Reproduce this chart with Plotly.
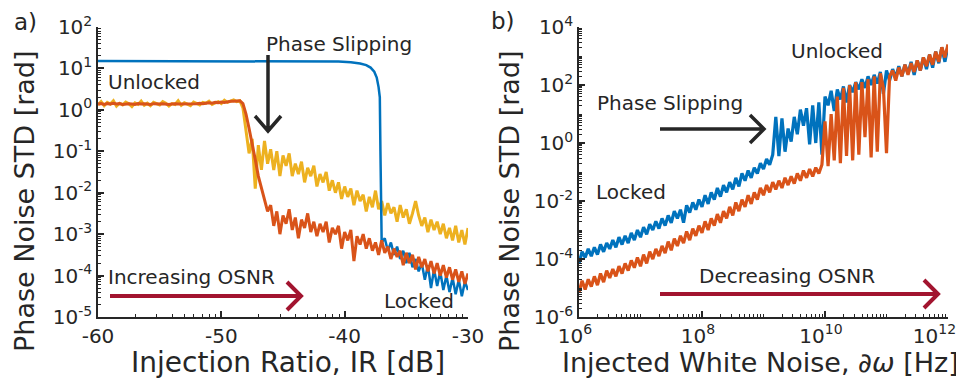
import numpy as np
import plotly.graph_objects as go

# ---------------- data: panel a) ----------------
# injection ratio grid (dB), 0.25 dB steps
ir_grid = [-60 + 0.25 * i for i in range(121)]

# log10 of phase-noise STD [rad]
yellow_a_log10 = [
    0.12, 0.2, 0.1, 0.18, 0.14, 0.22, 0.09, 0.16, 0.12, 0.19,
    0.15, 0.08, 0.17, 0.13, 0.21, 0.11, 0.16, 0.1, 0.18, 0.14,
    0.12, 0.2, 0.16, 0.09, 0.15, 0.13, 0.22, 0.11, 0.17, 0.14,
    0.1, 0.19, 0.15, 0.12, 0.18, 0.16, 0.21, 0.13, 0.17, 0.2,
    0.15, 0.23, 0.18, 0.22, 0.24, 0.2, 0.22, 0.05, -0.55, -1.05,
    -0.7, -1.9, -0.85, -1.45, -0.75, -1.3, -0.95, -1.45, -1.0, -1.6,
    -1.1, -1.35, -1.05, -1.6, -1.3, -1.55, -1.25, -1.75, -1.4, -1.6,
    -1.35, -1.85, -1.55, -1.75, -1.5, -1.95, -1.7, -2.0, -1.75, -2.15,
    -1.85, -2.1, -1.9, -2.3, -1.95, -2.2, -2.05, -2.45, -2.1, -2.35,
    -1.95, -2.4, -2.2, -2.55, -2.25, -2.5, -2.35, -2.7, -2.3, -2.6,
    -2.4, -2.75, -2.5, -2.2, -2.55, -2.8, -2.6, -2.95, -2.65, -2.9,
    -2.7, -3.0, -2.75, -3.1, -2.85, -3.15, -2.8, -3.2, -2.9, -3.25,
    -2.85,
]

orange_a_log10 = [
    0.14, 0.15, 0.13, 0.15, 0.14, 0.16, 0.14, 0.15, 0.13, 0.14,
    0.15, 0.14, 0.13, 0.15, 0.14, 0.15, 0.14, 0.13, 0.15, 0.14,
    0.14, 0.15, 0.14, 0.13, 0.14, 0.15, 0.14, 0.14, 0.15, 0.14,
    0.15, 0.14, 0.15, 0.16, 0.15, 0.16, 0.17, 0.16, 0.18, 0.17,
    0.19, 0.18, 0.2, 0.21, 0.21, 0.22, 0.22, 0.15, -0.1, -0.45,
    -0.8, -1.2, -1.6, -1.9, -2.2, -2.45, -2.3, -2.8, -2.45, -3.0,
    -2.55, -2.75, -2.4, -2.9, -2.6, -3.1, -2.65, -2.85, -2.5, -2.95,
    -2.7, -3.05, -2.75, -2.95, -2.7, -3.2, -2.85, -3.0, -2.8, -3.35,
    -2.95, -3.15, -2.9, -3.65, -3.05, -3.25, -3.0, -3.35, -3.1, -3.4,
    -3.2, -3.5, -3.15, -3.45, -3.3, -3.6, -3.35, -3.55, -3.4, -3.75,
    -3.45, -3.7, -3.5, -3.85, -3.55, -3.8, -3.6, -3.9, -3.65, -3.95,
    -3.7, -4.0, -3.75, -4.05, -3.8, -4.1, -3.85, -4.15, -3.9, -4.2,
    -3.95,
]

blue_a_x = [-60, -45, -42, -40.5, -39.5, -38.75, -38.25, -37.9, -37.6,
            -37.4, -37.25, -37.15, -37.1, -37.05] + ir_grid[92:]
blue_a_log10 = [
    1.18, 1.18, 1.175, 1.165, 1.15, 1.12, 1.08, 1.02, 0.92,
    0.78, 0.55, 0.3, -1.0, -3.0,
    -3.2, -3.1, -3.4, -3.2, -3.5, -3.3, -3.6, -3.4, -3.7, -3.45,
    -3.8, -3.6, -3.9, -3.7, -4.1, -3.75, -4.3, -3.85, -4.25, -3.9,
    -4.35, -4.0, -4.4, -4.05, -4.45, -4.1, -4.5, -4.15, -4.35,
]

# ---------------- data: panel b) ----------------
# log10 of injected white noise [Hz], 0.05-decade steps
dw_log10_grid = [6 + 0.05 * j for j in range(121)]

blue_b_log10 = [
    -4.15, -3.75, -3.95, -3.65, -3.9, -3.6, -3.85, -3.5, -3.75, -3.45,
    -3.65, -3.35, -3.6, -3.25, -3.5, -3.2, -3.45, -3.1, -3.35, -3.0,
    -3.25, -2.9, -3.15, -2.8, -3.0, -2.7, -2.95, -2.6, -2.85, -2.5,
    -2.75, -2.35, -2.6, -2.3, -2.75, -2.15, -2.4, -2.05, -2.3, -1.95,
    -2.2, -1.8, -2.1, -1.7, -1.95, -1.55, -1.85, -1.45, -1.7, -1.35,
    -1.6, -1.2, -1.5, -1.05, -1.3, -0.95, -1.2, -0.85, -1.05, -0.7,
    -0.9, -0.55, -0.75, -0.4, 0.9, -0.45, 0.85, -0.3, 0.5, 0.05,
    0.9, 0.3, 1.15, 0.6, 1.2, -0.05, 1.3, 0.0, 1.4, -0.4,
    1.6, 1.3, 1.8, 1.1, 1.85, 1.5, 1.95, 1.4, 2.0, 1.75,
    2.1, 1.85, 2.2, 1.9, 2.3, 2.0, 2.35, 2.05, 2.45, 1.7,
    2.5, 2.15, 2.55, 2.25, 2.65, 2.3, 2.7, 2.4, 2.8, 2.35,
    2.85, 2.5, 2.95, 2.55, 3.05, 2.6, 3.15, 2.75, 3.3, 2.8,
    3.35,
]

orange_b_log10 = [
    -5.15, -4.75, -5.05, -4.7, -4.95, -4.6, -4.9, -4.5, -4.8, -4.4,
    -4.65, -4.35, -4.6, -4.25, -4.5, -4.15, -4.4, -4.05, -4.3, -3.95,
    -4.25, -3.85, -4.15, -3.75, -4.0, -3.65, -3.9, -3.55, -3.8, -3.4,
    -3.7, -3.3, -3.55, -3.2, -3.45, -3.05, -3.35, -2.95, -3.2, -2.85,
    -3.1, -2.7, -3.0, -2.6, -2.85, -2.45, -2.75, -2.35, -2.6, -2.2,
    -2.5, -2.05, -2.35, -1.95, -2.2, -1.8, -2.1, -1.7, -1.95, -1.55,
    -1.8, -1.45, -1.7, -1.35, -1.6, -1.3, -1.55, -1.2, -1.45, -1.15,
    -1.4, -1.05, -1.3, -0.95, -1.2, -0.9, -1.15, -0.85, -1.05, -0.75,
    0.75, -0.8, 1.0, -0.6, 1.6, -0.7, 1.9, -0.45, 2.0, -0.6,
    2.1, -0.4, 2.1, 0.2, 2.2, -0.5, 2.3, -0.3, 2.4, 1.9,
    -0.35, 2.3, 2.5, 2.15, 2.6, 2.3, 2.7, 2.35, 2.75, 2.45,
    2.85, 2.5, 2.95, 2.65, 3.05, 2.7, 3.15, 2.8, 3.3, 2.95,
    3.4,
]

# tick labels
ir_tickvals = [-60, -50, -40, -30]
ir_ticktext = ["-60", "-50", "-40", "-30"]
std_a_tickvals = [1e-5, 1e-4, 1e-3, 1e-2, 1e-1, 1e0, 1e1, 1e2]
std_a_ticktext = ["10<sup>-5</sup>", "10<sup>-4</sup>", "10<sup>-3</sup>", "10<sup>-2</sup>",
                  "10<sup>-1</sup>", "10<sup>0</sup>", "10<sup>1</sup>", "10<sup>2</sup>"]
std_b_tickvals = [1e-6, 1e-4, 1e-2, 1e0, 1e2, 1e4]
std_b_ticktext = ["10<sup>-6</sup>", "10<sup>-4</sup>", "10<sup>-2</sup>",
                  "10<sup>0</sup>", "10<sup>2</sup>", "10<sup>4</sup>"]
dw_tickvals = [1e6, 1e8, 1e10, 1e12]
# the last label is padded on the right so that it stays inside the window
dw_ticktext = ["10<sup>6</sup>", "10<sup>8</sup>", "10<sup>10</sup>",
               "10<sup>12</sup>\u00a0\u00a0\u00a0"]

# ---------------- styling ----------------
BLUE = "#0072BD"
ORANGE = "#D95319"
YELLOW = "#EDB120"
MAROON = "#A2142F"
INK = "#262626"
FONT = "DejaVu Sans"
# the page body has an 8 px margin: the figure is sized to fill the rest of the window
OFF = 8
W, H = 964 - OFF, 383 - OFF


def px(x):
    # window pixel -> paper fraction
    return (x - OFF) / W


def py(y):
    return 1 - (y - OFF) / H


fig = go.Figure()

fig.add_trace(go.Scatter(x=ir_grid, y=10 ** np.array(yellow_a_log10), mode="lines",
                         line=dict(color=YELLOW, width=3), xaxis="x", yaxis="y"))
fig.add_trace(go.Scatter(x=blue_a_x, y=10 ** np.array(blue_a_log10), mode="lines",
                         line=dict(color=BLUE, width=2.5), xaxis="x", yaxis="y"))
fig.add_trace(go.Scatter(x=ir_grid, y=10 ** np.array(orange_a_log10), mode="lines",
                         line=dict(color=ORANGE, width=3), xaxis="x", yaxis="y"))

dw = 10 ** np.array(dw_log10_grid)
fig.add_trace(go.Scatter(x=dw, y=10 ** np.array(blue_b_log10), mode="lines",
                         line=dict(color=BLUE, width=3.2), xaxis="x2", yaxis="y2"))
fig.add_trace(go.Scatter(x=dw, y=10 ** np.array(orange_b_log10), mode="lines",
                         line=dict(color=ORANGE, width=3.2), xaxis="x2", yaxis="y2"))

# log-style minor ticks on the linear IR axis (as in the original)
ir_minor = []
for start in (-60, -50, -40):
    for k in range(2, 10):
        ir_minor.append(start + 10 * np.log10(k))

axis_common = dict(
    showline=True, linecolor=INK, linewidth=1.5, ticks="inside", tickcolor=INK,
    ticklen=6, tickwidth=1.5, showgrid=False, zeroline=False, mirror=False,
    automargin=False, tickmode="array", ticklabeloverflow="allow",
    tickfont=dict(family=FONT, size=20, color=INK),
)
minor_log = dict(ticks="inside", ticklen=3, tickcolor=INK, tickwidth=1, dtick="D1")

y_top = py(27)
y_bot = py(317)

fig.update_layout(
    width=W, height=H,
    margin=dict(l=0, r=0, t=0, b=0),
    paper_bgcolor="white", plot_bgcolor="white",
    showlegend=False,
    font=dict(family=FONT, color=INK),
    xaxis=dict(domain=[px(98), px(468)], range=[-60, -30], tickvals=ir_tickvals,
               ticktext=ir_ticktext, anchor="y",
               minor=dict(tickmode="array", tickvals=ir_minor, ticks="inside",
                          ticklen=3, tickcolor=INK, tickwidth=1),
               **axis_common),
    yaxis=dict(domain=[y_bot, y_top], type="log", range=[-5, 2],
               tickvals=std_a_tickvals, ticktext=std_a_ticktext, anchor="x",
               minor=minor_log, **axis_common),
    xaxis2=dict(domain=[px(579), px(948)], type="log", range=[6, 12],
                tickvals=dw_tickvals, ticktext=dw_ticktext, anchor="y2",
                ticklabelshift=-4,
                minor=minor_log, **axis_common),
    yaxis2=dict(domain=[y_bot, y_top], type="log", range=[-6, 4],
                tickvals=std_b_tickvals, ticktext=std_b_ticktext, anchor="x2",
                minor=minor_log, **axis_common),
)

annotations = []


def text(t, x, y, size=20, xanchor="left", angle=0):
    annotations.append(dict(text=t, x=px(x), y=py(y), xref="paper", yref="paper",
                            xanchor=xanchor, yanchor="middle", showarrow=False,
                            textangle=angle, borderpad=0,
                            font=dict(family=FONT, size=size, color=INK)))


# panel labels
text("a)", 25, 22, size=23, xanchor="center")
text("b)", 503, 21, size=23, xanchor="center")
# axis titles
text("Phase Noise STD [rad]", 24, 201, size=27, xanchor="center", angle=-90)
text("Phase Noise STD [rad]", 509, 201, size=27, xanchor="center", angle=-90)
text("Injection Ratio, IR [dB]", 288, 362, size=28, xanchor="center")
text("Injected White Noise, <i>∂ω</i> [Hz]", 960, 362, size=27, xanchor="right")
# panel a notes
text("Phase Slipping", 265, 44)
text("Unlocked", 107, 82)
text("Increasing OSNR", 107, 277)
text("Locked", 383, 301)
# panel b notes
text("Unlocked", 790, 51)
text("Phase Slipping", 596, 103)
text("Locked", 595, 192)
text("Decreasing OSNR", 698, 276)

fig.update_layout(annotations=annotations)


def arrow(x0, y0, x1, y1, hx, hy, color, width):
    # shaft from (x0,y0) to tip (x1,y1); head arms offset (hx, hy) from the tip
    if x0 == x1:
        a1 = (x1 - hx, y1 - hy)
        a2 = (x1 + hx, y1 - hy)
    else:
        a1 = (x1 - hx, y1 - hy)
        a2 = (x1 - hx, y1 + hy)
    path = (f"M {px(x0)},{py(y0)} L {px(x1)},{py(y1)} "
            f"M {px(a1[0])},{py(a1[1])} L {px(x1)},{py(y1)} L {px(a2[0])},{py(a2[1])}")
    fig.add_shape(type="path", path=path, xref="paper", yref="paper",
                  line=dict(color=color, width=width))


arrow(268, 55, 268, 131, 13, 15, INK, 3.5)
arrow(110, 296, 301, 296, 14, 14, MAROON, 4)
arrow(660, 129, 764, 129, 14, 14, INK, 3.5)
arrow(660, 294, 938, 294, 14, 14, MAROON, 4)

fig.write_html("out.html")
